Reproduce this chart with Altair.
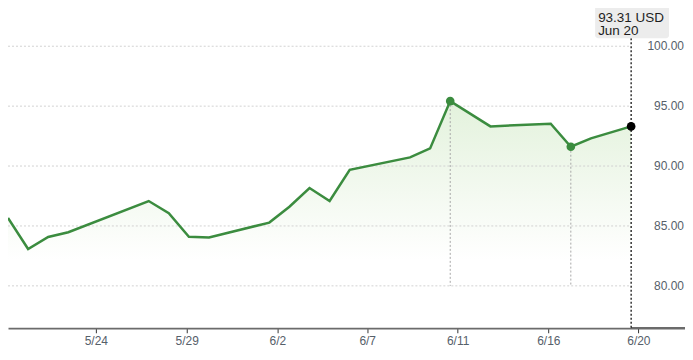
import altair as alt
import pandas as pd

# ---- data ----
dates = ["2025-05-20", "2025-05-21", "2025-05-22", "2025-05-23", "2025-05-27",
         "2025-05-28", "2025-05-29", "2025-05-30", "2025-06-02", "2025-06-03",
         "2025-06-04", "2025-06-05", "2025-06-06", "2025-06-09", "2025-06-10",
         "2025-06-11", "2025-06-13", "2025-06-16", "2025-06-17", "2025-06-18",
         "2025-06-20"]
prices = [85.67, 83.08, 84.08, 84.48, 87.08,
          86.06, 84.10, 84.03, 85.28, 86.60,
          88.17, 87.08, 89.69, 90.72, 91.47,
          95.42, 93.31, 93.53, 91.61, 92.31,
          93.31]
tick_days = [4.37, 8.89, 13.40, 17.87, 22.37, 26.88, 31.36]
tick_labels = ["5/24", "5/29", "6/2", "6/7", "6/11", "6/16", "6/20"]
grid_values = [80, 85, 90, 95, 100]
marked_dates = ["2025-06-11", "2025-06-17"]

X_DOMAIN = [0, 33.68]
Y_DOMAIN = [76.5, 103.17]

start = pd.Timestamp(dates[0])
df = pd.DataFrame({"date": dates, "price": prices})
df["day"] = (pd.to_datetime(df["date"]) - start).dt.days

last = df.iloc[-1]
marked = df[df["date"].isin(marked_dates)].copy()
marked["base"] = 80

grid_df = pd.DataFrame({
    "v": grid_values,
    "x0": [0] * len(grid_values),
    "x1": [int(last["day"])] * len(grid_values),
    "label": [f"{v:.2f}" for v in grid_values],
})

last_df = pd.DataFrame({
    "day": [int(last["day"])],
    "price": [float(last["price"])],
    "line1": [f"{last['price']:.2f} USD"],
    "line2": [pd.Timestamp(last["date"]).strftime("%b ") + str(pd.Timestamp(last["date"]).day)],
})

xs = alt.Scale(domain=X_DOMAIN, nice=False, zero=False)
ys = alt.Scale(domain=Y_DOMAIN, nice=False, zero=False)

label_expr = "[" + ",".join(f"'{t}'" for t in tick_labels) + "][indexof([" + \
    ",".join(str(v) for v in tick_days) + "], datum.value)]"

x_axis = alt.Axis(
    values=tick_days, labelExpr=label_expr, title=None, grid=False,
    domainColor="#6b6b6b", domainWidth=2.5,
    tickColor="#333333", tickSize=5, tickWidth=1,
    labelColor="#56606a", labelFontSize=12, labelFont="Liberation Sans",
    labelPadding=3,
)

FONT = "Liberation Sans"

grad = alt.Gradient(
    gradient="linear",
    stops=[alt.GradientStop(color="#e3f2dc", offset=0),
           alt.GradientStop(color="#f3f9f0", offset=0.4),
           alt.GradientStop(color="#ffffff", offset=0.7)],
    x1=1, x2=1, y1=0, y2=1,
)

area = alt.Chart(df).mark_area(color=grad).encode(
    x=alt.X("day:Q", scale=xs, axis=x_axis),
    y=alt.Y("price:Q", scale=ys, axis=None),
    y2=alt.Y2(datum=Y_DOMAIN[0]),
)

grid = alt.Chart(grid_df).mark_rule(color="#d2d2d2", strokeDash=[2, 2], strokeWidth=1).encode(
    x=alt.X("x0:Q", scale=xs, axis=x_axis),
    x2="x1:Q",
    y=alt.Y("v:Q", scale=ys, axis=None),
)

ylabels = alt.Chart(grid_df).mark_text(
    align="right", baseline="middle", fontSize=12, font=FONT, color="#56606a"
).encode(
    x=alt.value(677),
    y=alt.Y("v:Q", scale=ys, axis=None),
    text="label:N",
)

vrules = alt.Chart(marked).mark_rule(color="#a8a8a8", strokeDash=[2, 2], strokeWidth=1).encode(
    x=alt.X("day:Q", scale=xs, axis=x_axis),
    y=alt.Y("price:Q", scale=ys, axis=None),
    y2="base:Q",
)

line = alt.Chart(df).mark_line(color="#3b8c3f", strokeWidth=2.5).encode(
    x=alt.X("day:Q", scale=xs, axis=x_axis),
    y=alt.Y("price:Q", scale=ys, axis=None),
)

dots = alt.Chart(marked).mark_circle(color="#3b8c3f", opacity=1, size=75).encode(
    x=alt.X("day:Q", scale=xs, axis=x_axis),
    y=alt.Y("price:Q", scale=ys, axis=None),
)

now_rule = alt.Chart(last_df).mark_rule(color="#000000", strokeDash=[2, 2], strokeWidth=1.2).encode(
    x=alt.X("day:Q", scale=xs, axis=x_axis),
    y=alt.value(30),
    y2=alt.value(320),
)

now_dot = alt.Chart(last_df).mark_circle(color="#000000", opacity=1, size=75).encode(
    x=alt.X("day:Q", scale=xs, axis=x_axis),
    y=alt.Y("price:Q", scale=ys, axis=None),
)

box = alt.Chart(last_df).mark_rect(color="#ececec", cornerRadius=3).encode(
    x=alt.value(588), x2=alt.value(662), y=alt.value(-4), y2=alt.value(30),
)

txt1 = alt.Chart(last_df).mark_text(
    align="left", baseline="alphabetic", fontSize=13.5, font=FONT, color="#1e1e1e"
).encode(x=alt.value(591), y=alt.value(13.5), text="line1:N")

txt2 = alt.Chart(last_df).mark_text(
    align="left", baseline="alphabetic", fontSize=13.5, font=FONT, color="#1e1e1e"
).encode(x=alt.value(591), y=alt.value(27), text="line2:N")

chart = alt.layer(
    area, grid, vrules, line, dots, now_rule, now_dot, box, txt1, txt2, ylabels
).properties(
    width=678, height=320,
    autosize=alt.AutoSizeParams(type="none"),
    padding={"left": 0, "top": 0, "right": 0, "bottom": 32},
).configure_view(stroke=None)

chart.save("out.html", embed_options={"renderer": "svg", "actions": False})
